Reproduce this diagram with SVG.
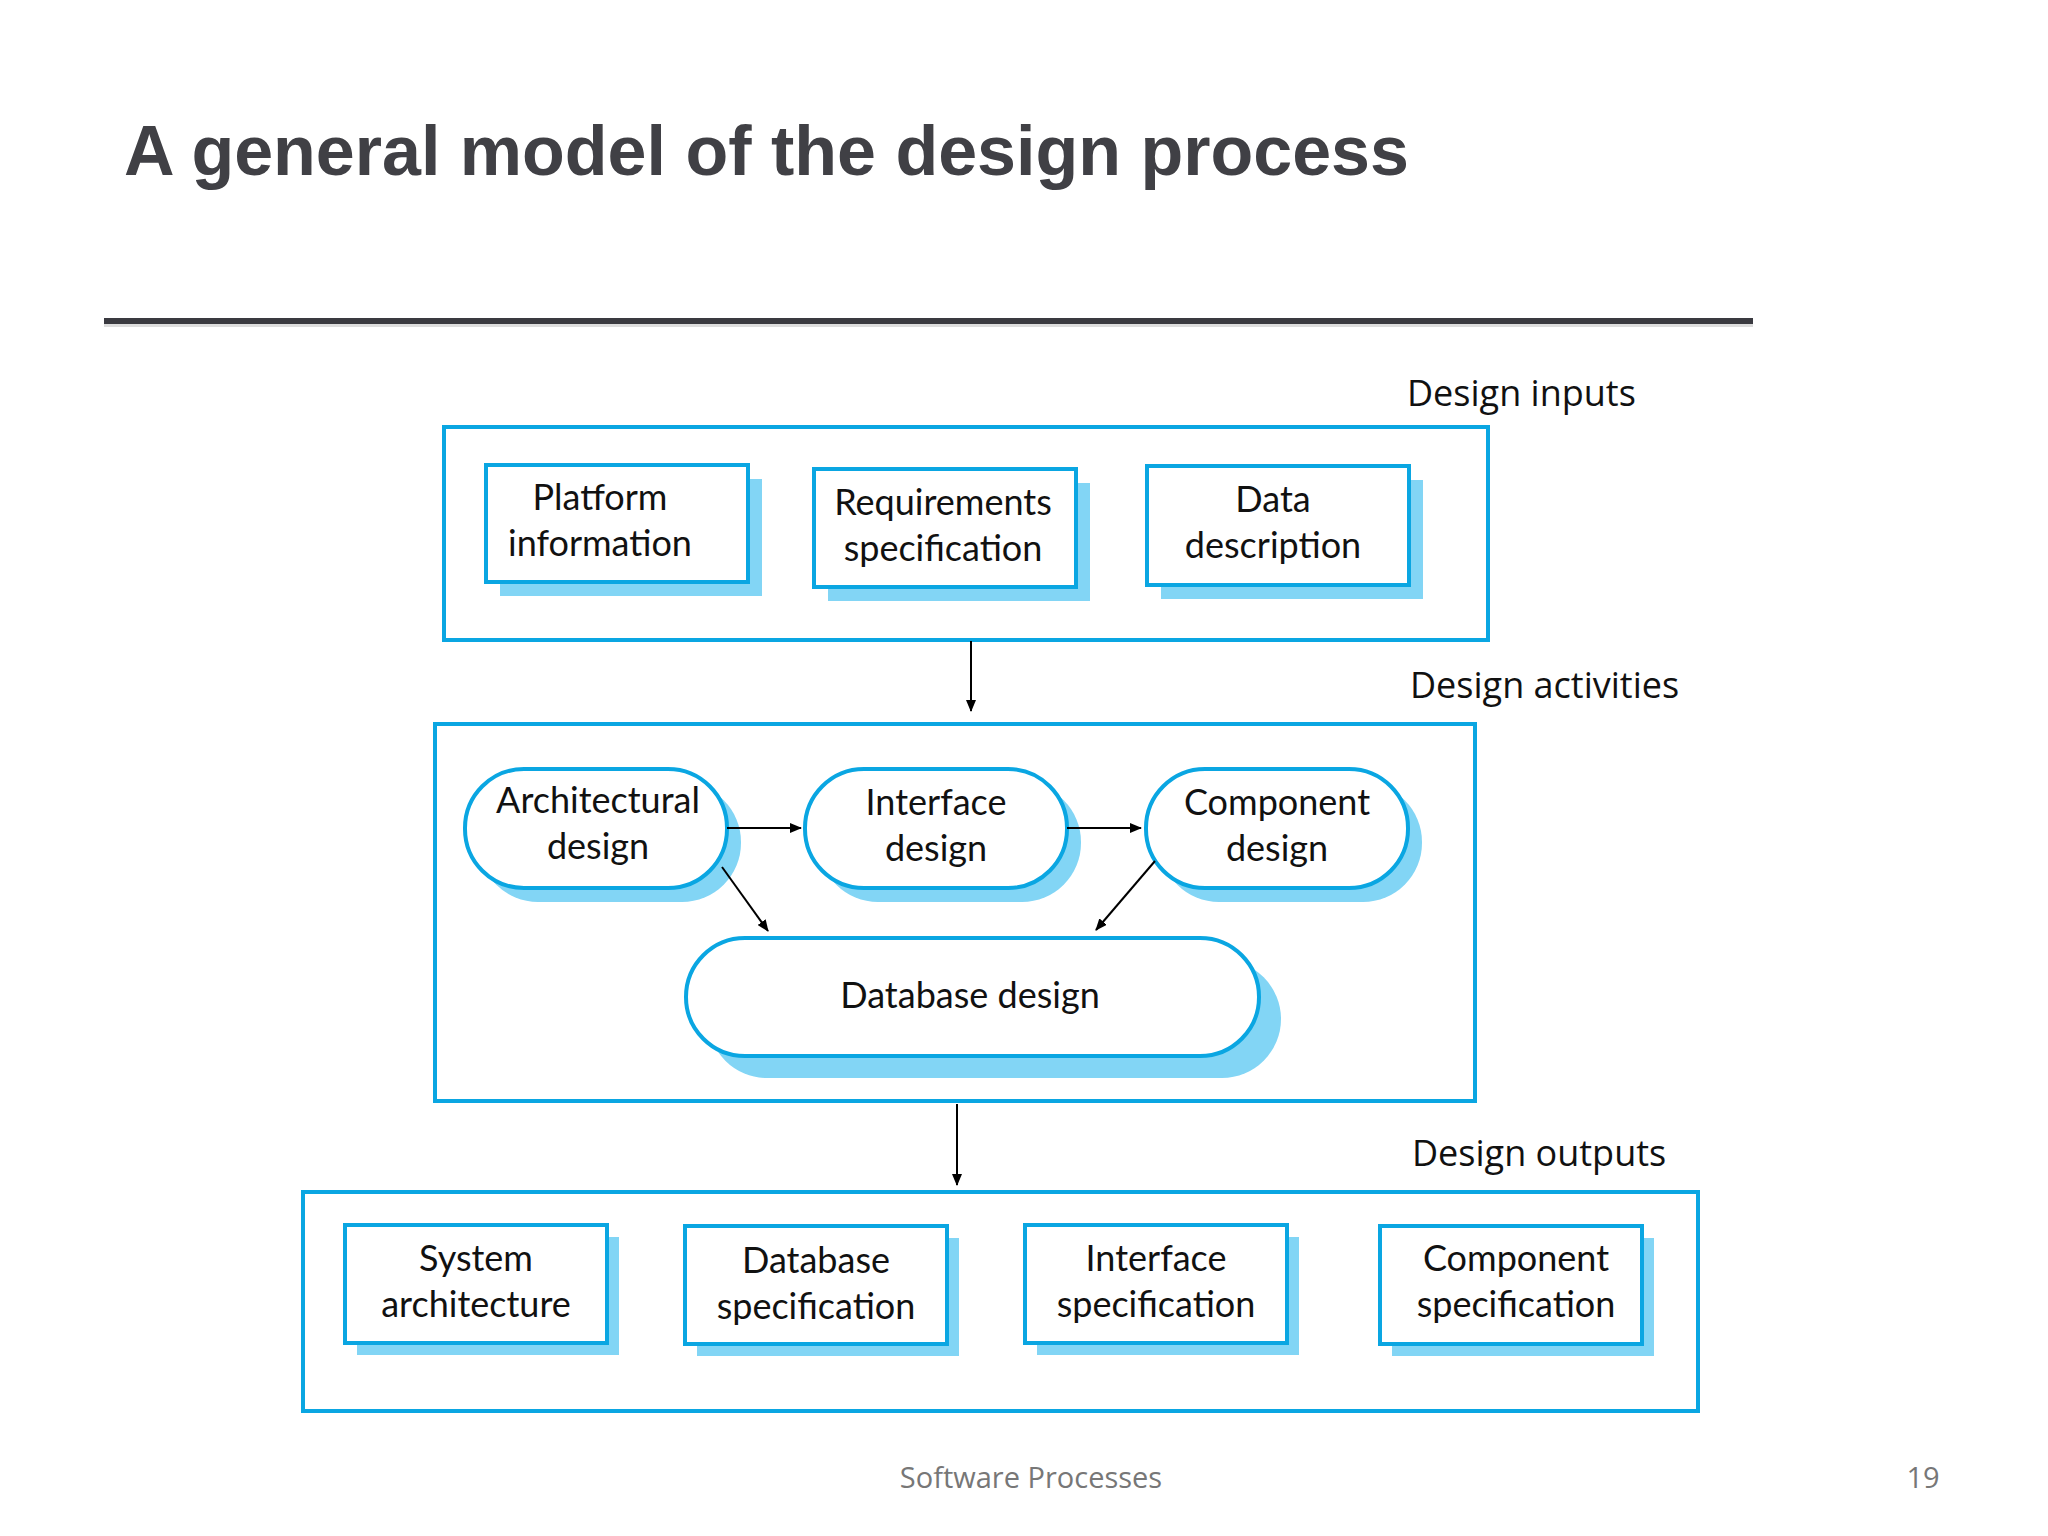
<svg xmlns="http://www.w3.org/2000/svg" width="2048" height="1536" viewBox="0 0 2048 1536">
<defs>
<style>
.grp{fill:none;stroke:#0aa6e2;stroke-width:4}
.box{fill:#fff;stroke:#0aa6e2;stroke-width:4}
.sh{fill:#82d5f5}
.t{font-family:Lato,"Liberation Sans",sans-serif;font-size:36px;fill:#111;text-anchor:middle}
.lbl{font-family:"Open Sans","Liberation Sans",sans-serif;font-size:36px;fill:#111}
.ln{stroke:#000;stroke-width:2;fill:none;marker-end:url(#ah)}
</style>
<marker id="ah" markerWidth="12" markerHeight="10" refX="11" refY="5" orient="auto" markerUnits="userSpaceOnUse" viewBox="0 0 12 10"><path d="M0,0 L12,5 L0,10 Z" fill="#000"/></marker>
</defs>
<rect width="2048" height="1536" fill="#fff"/>
<text x="124" y="175" font-family="'Liberation Sans',Arial,sans-serif" font-weight="bold" font-size="70" fill="#404045">A general model of the design process</text>
<rect x="104" y="318" width="1649" height="6" fill="#3a3a40"/>
<rect x="104" y="324" width="1649" height="3" fill="#ddd"/>

<text class="lbl" x="1407" y="406">Design inputs</text>
<text class="lbl" x="1410" y="698">Design activities</text>
<text class="lbl" x="1412" y="1166">Design outputs</text>

<g id="inputs"><rect class="grp" x="444" y="427" width="1044" height="213"/></g>
<g id="platform"><rect class="sh" x="500" y="479" width="262" height="117"/><rect class="box" x="486" y="465" width="262" height="117"/><text class="t" x="600" y="510">Platform</text><text class="t" x="600" y="556">information</text></g>
<g id="requirements"><rect class="sh" x="828" y="483" width="262" height="118"/><rect class="box" x="814" y="469" width="262" height="118"/><text class="t" x="943" y="515">Requirements</text><text class="t" x="943" y="561">specification</text></g>
<g id="data"><rect class="sh" x="1161" y="480" width="262" height="119"/><rect class="box" x="1147" y="466" width="262" height="119"/><text class="t" x="1273" y="512">Data</text><text class="t" x="1273" y="558">description</text></g>

<g id="activities"><rect class="grp" x="435" y="724" width="1040" height="377"/></g>
<g id="arch"><rect class="sh" x="479" y="783" width="262" height="119" rx="59"/><rect class="box" x="465" y="769" width="262" height="119" rx="59"/><text class="t" x="598" y="813">Architectural</text><text class="t" x="598" y="859">design</text></g>
<g id="iface"><rect class="sh" x="819" y="783" width="262" height="119" rx="59"/><rect class="box" x="805" y="769" width="262" height="119" rx="59"/><text class="t" x="936" y="815">Interface</text><text class="t" x="936" y="861">design</text></g>
<g id="comp"><rect class="sh" x="1160" y="783" width="262" height="119" rx="59"/><rect class="box" x="1146" y="769" width="262" height="119" rx="59"/><text class="t" x="1277" y="815">Component</text><text class="t" x="1277" y="861">design</text></g>
<g id="db"><rect class="sh" x="708" y="960" width="573" height="118" rx="59"/><rect class="box" x="686" y="938" width="573" height="118" rx="59"/><text class="t" x="970" y="1008">Database design</text></g>

<g id="outputs"><rect class="grp" x="303" y="1192" width="1395" height="219"/></g>
<g id="sysarch"><rect class="sh" x="357" y="1237" width="262" height="118"/><rect class="box" x="345" y="1225" width="262" height="118"/><text class="t" x="476" y="1271">System</text><text class="t" x="476" y="1317">architecture</text></g>
<g id="dbspec"><rect class="sh" x="697" y="1238" width="262" height="118"/><rect class="box" x="685" y="1226" width="262" height="118"/><text class="t" x="816" y="1273">Database</text><text class="t" x="816" y="1319">specification</text></g>
<g id="ifspec"><rect class="sh" x="1037" y="1237" width="262" height="118"/><rect class="box" x="1025" y="1225" width="262" height="118"/><text class="t" x="1156" y="1271">Interface</text><text class="t" x="1156" y="1317">specification</text></g>
<g id="compspec"><rect class="sh" x="1392" y="1238" width="262" height="118"/><rect class="box" x="1380" y="1226" width="262" height="118"/><text class="t" x="1516" y="1271">Component</text><text class="t" x="1516" y="1317">specification</text></g>

<g id="connectors">
<line class="ln" x1="971" y1="641" x2="971" y2="711"/>
<line class="ln" x1="727" y1="828" x2="801" y2="828"/>
<line class="ln" x1="1067" y1="828" x2="1141" y2="828"/>
<line class="ln" x1="722" y1="867" x2="768" y2="931"/>
<line class="ln" x1="1155" y1="861" x2="1096" y2="930"/>
<line class="ln" x1="957" y1="1104" x2="957" y2="1185"/>
</g>
<text x="1031" y="1488" font-family="'Open Sans','Liberation Sans',sans-serif" font-size="29" fill="#777" text-anchor="middle">Software Processes</text>
<text x="1923" y="1488" font-family="'Open Sans','Liberation Sans',sans-serif" font-size="29" fill="#777" text-anchor="middle">19</text>
</svg>
